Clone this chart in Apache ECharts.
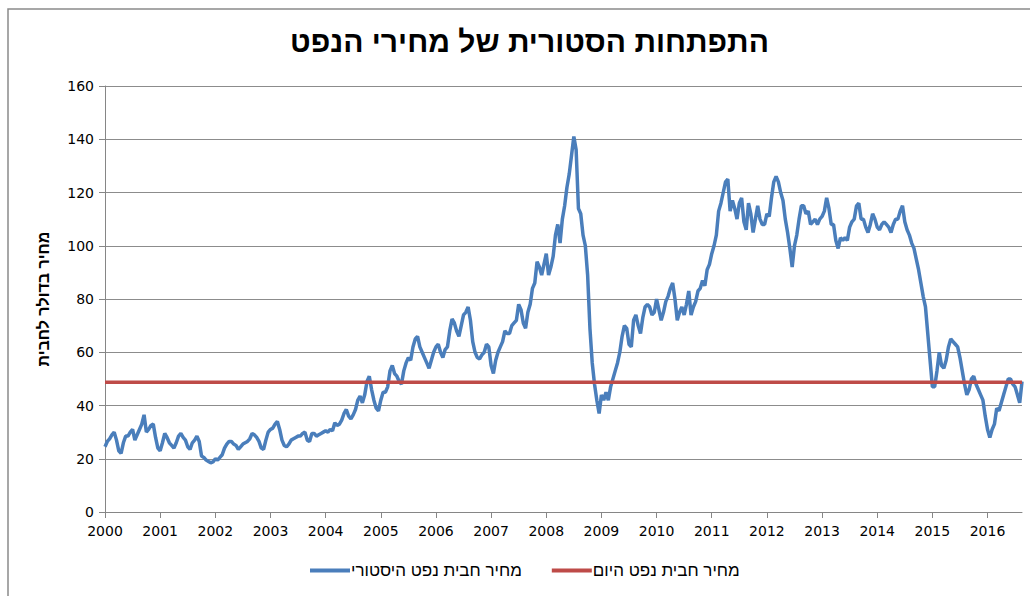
<!DOCTYPE html>
<html>
<head>
<meta charset="utf-8">
<script src="https://cdn.jsdelivr.net/npm/echarts@6/dist/echarts.min.js"></script>
<style>
  html, body { margin: 0; padding: 0; background: #fff; }
  #main { width: 1030px; height: 596px; }
</style>
</head>
<body>
<div id="main"></div>
<script>
// מחיר חבית נפט - ערכים חצי-חודשיים (1 ו-15 לכל חודש)
const years = [2000, 2001, 2002, 2003, 2004, 2005, 2006, 2007, 2008, 2009, 2010, 2011, 2012, 2013, 2014, 2015, 2016]
const p2000 = [24.5, 26.5, 27.5, 29, 30, 27, 23, 22, 26, 28.5, 28.5, 30, 31, 27, 29, 31, 33, 36.5, 30, 31, 32.5, 33, 28, 24]
const p2001 = [23, 26, 29.5, 28, 26, 25, 24, 26, 28.5, 29.5, 28, 27, 24.5, 23.5, 26, 27, 28.5, 26.5, 21, 20.5, 19.5, 19, 18.5, 18.8]
const p2002 = [20, 19.5, 20.5, 21.5, 24, 25.5, 26.5, 26.5, 25.5, 25, 23.5, 24.5, 25.5, 26, 26.5, 27.5, 29.5, 29, 28, 26.5, 24, 23.5, 27, 30]
const p2003 = [31, 31.5, 33, 34, 31, 27, 25, 24.5, 25.5, 27, 27.5, 28, 28.5, 28.5, 29.5, 30, 27, 26.5, 29.5, 29.5, 28.5, 29, 29.5, 30]
const p2004 = [30.5, 30, 31, 30.5, 33.5, 32.5, 33, 34.5, 37, 38.5, 36, 35, 36.5, 38.5, 42, 43.5, 41, 44, 49, 51, 46, 42, 39, 38]
const p2005 = [42, 45, 45, 47, 53, 55, 52, 51, 49, 48, 53, 56, 58, 57, 62, 65, 66, 62, 60, 58, 56, 54, 57, 60]
const p2006 = [62, 63, 60, 58, 61, 62, 68, 72.5, 71, 68, 66, 70, 74, 75, 77, 72, 64, 60, 58, 57.5, 59, 60, 63, 62]
const p2007 = [55, 52, 57, 60, 62, 64, 68, 67, 67, 70, 71, 72, 78, 76, 71, 69, 75, 78, 84, 86, 94, 92, 89, 93]
const p2008 = [97, 89, 92, 96, 104, 108, 101, 110, 115, 122, 127, 134, 141, 136, 114, 112, 104, 100, 89, 69, 56, 48, 42, 37]
const p2009 = [44, 42, 45, 42, 47, 50, 53, 56, 60, 66, 70, 69, 63, 62, 72, 74, 70, 67, 73, 77, 78, 77, 74, 75]
const p2010 = [80, 76, 72, 75, 79, 81, 84, 86, 80, 72, 75, 77, 74, 78, 83, 74, 77, 79, 83, 84, 87, 85, 91, 93]
const p2011 = [97, 100, 104, 113, 116, 120, 124, 125, 113, 117, 114, 110, 116, 118, 109, 106, 116, 112, 105, 110, 115, 110, 108, 108]
const p2012 = [112, 111, 118, 124, 126, 124, 120, 117, 110, 105, 99, 92, 100, 104, 110, 115, 115, 112, 113, 108, 109, 110, 108, 110]
const p2013 = [111, 113, 118, 114, 108, 108, 102, 99, 103, 102, 103, 102, 107, 109, 110, 115, 116, 110, 110, 107, 105, 108, 112, 110]
const p2014 = [107, 106, 108, 109, 108, 107, 105, 108, 110, 110, 113, 115, 109, 106, 104, 101, 99, 95, 91, 86, 81, 77, 67, 57]
const p2015 = [47, 47, 53, 60, 55, 54, 57, 62, 65, 64, 63, 62, 58, 53, 48, 44, 46, 50, 51, 48, 46, 44, 42, 36]
const p2016 = [31, 28, 31, 33, 39, 38, 41, 44, 47, 50, 50, 48, 47, 44, 41, 49]
const todayPrice = 48.7

const historic = [].concat(p2000, p2001, p2002, p2003, p2004, p2005, p2006, p2007, p2008,
  p2009, p2010, p2011, p2012, p2013, p2014, p2015, p2016)

// קטגוריות: שנה-חודש-חצי
const categories = []
years.forEach(y => {
  for (let m = 1; m <= 12; m++) {
    categories.push(y + '-' + m + 'a')
    categories.push(y + '-' + m + 'b')
  }
})
categories.length = historic.length

const isYearStart = (i) => i % 24 === 0

// svg כדי שהעברית תוצג מימין לשמאל
const myChart = echarts.init(document.getElementById('main'), null, { renderer: 'svg' })
const hebFont = '"Liberation Sans", Arial, "DejaVu Sans", sans-serif'
const option = {
  animation: false,
  backgroundColor: '#fff',
  graphic: [{
    type: 'rect',
    shape: { x: 8, y: 9, width: 1100, height: 700 },
    style: { fill: 'none', stroke: '#8a8a8a', lineWidth: 1.5 },
    silent: true
  }],
  title: {
    text: 'התפתחות הסטורית של מחירי הנפט',
    left: 290,
    top: 26,
    padding: 0,
    textStyle: { fontFamily: hebFont, fontWeight: 'bold', fontSize: 30, color: '#000' }
  },
  legend: {
    bottom: 12,
    left: 305,
    itemGap: 30,
    itemWidth: 40,
    itemHeight: 4,
    icon: 'rect',
    textStyle: { fontFamily: hebFont, fontSize: 17, color: '#000', padding: [0, 0, 0, -4] },
    data: ['מחיר חבית נפט היסטורי', 'מחיר חבית נפט היום']
  },
  grid: { left: 105, right: 8, top: 86, bottom: 84 },
  xAxis: {
    type: 'category',
    data: categories,
    boundaryGap: false,
    axisLine: { lineStyle: { color: '#868686', width: 1 } },
    axisTick: { interval: isYearStart, length: 6, lineStyle: { color: '#868686' } },
    axisLabel: {
      interval: isYearStart,
      formatter: (v) => v.split('-')[0],
      fontFamily: '"DejaVu Sans", sans-serif',
      fontSize: 14,
      color: '#000',
      margin: 12
    },
    splitLine: { show: false }
  },
  yAxis: {
    type: 'value',
    min: 0,
    max: 160,
    interval: 20,
    name: 'מחיר בדולר לחבית',
    nameLocation: 'middle',
    nameRotate: 90,
    nameGap: 54,
    nameTextStyle: { fontFamily: hebFont, fontWeight: 'bold', fontSize: 16, color: '#000' },
    axisLine: { show: true, lineStyle: { color: '#868686', width: 1 } },
    axisTick: { show: true, length: 6, lineStyle: { color: '#868686' } },
    axisLabel: { fontFamily: '"DejaVu Sans", sans-serif', fontSize: 14, color: '#000', margin: 11 },
    splitLine: { lineStyle: { color: '#8c8c8c', width: 1 } }
  },
  series: [
    {
      name: 'מחיר חבית נפט היסטורי',
      type: 'line',
      data: historic,
      showSymbol: false,
      symbol: 'none',
      lineStyle: { color: '#4a7ebb', width: 3.5 },
      itemStyle: { color: '#4a7ebb' },
      z: 3
    },
    {
      name: 'מחיר חבית נפט היום',
      type: 'line',
      data: [[categories[0], todayPrice], [categories[categories.length - 1], todayPrice]],
      showSymbol: false,
      symbol: 'none',
      lineStyle: { color: '#be4b48', width: 3.5 },
      itemStyle: { color: '#be4b48' },
      z: 4
    }
  ]
}
myChart.setOption(option)
</script>
</body>
</html>
